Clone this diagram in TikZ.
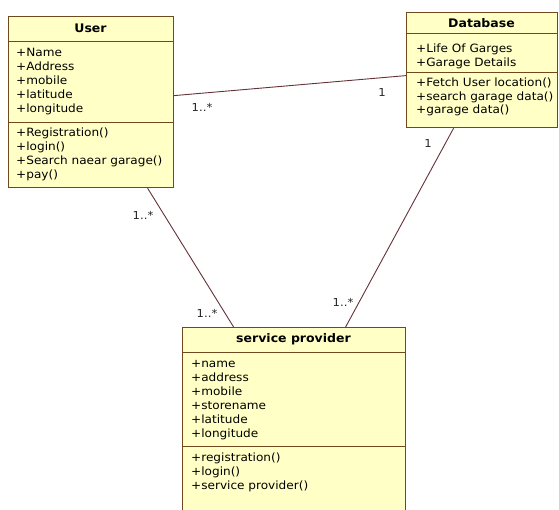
\documentclass[tikz,border=0pt]{standalone}
\usepackage{fontspec}
\setmainfont[FakeStretch=1.06]{DejaVu Sans}
\begin{document}
\begin{tikzpicture}[x=1pt,y=-1pt,
  comp/.style={draw=boxline, fill=boxfill, line width=1.2pt, rectangle, inner sep=0pt, anchor=north west},
  title/.style={font=\fontsize{11.8}{13}\selectfont\bfseries, inner sep=0pt, text=black},
  txt/.style={font=\fontsize{11.4}{13}\selectfont, inner sep=0pt, anchor=base west, text=black},
  mult/.style={font=\fontsize{11}{13}\selectfont, inner sep=0pt, text=black!85},
  assoc/.style={draw=assocline, line width=0.9pt}]
\definecolor{boxfill}{RGB}{255,255,198}
\definecolor{boxline}{RGB}{112,72,30}
\definecolor{assocline}{RGB}{100,50,55}
\fill[white] (0,0) rectangle (559,509);
\useasboundingbox (0,0) rectangle (559,509);

% User
\node[comp, minimum width=165pt, minimum height=25pt] (uH) at (8,16) {};
\node[comp, minimum width=165pt, minimum height=81pt] (uA) at (8,41) {};
\node[comp, minimum width=165pt, minimum height=65pt] (uM) at (8,122) {};
\node[title] (uT) at (90.5,28) {User};
\foreach \t [count=\i from 0] in {+Name,+Address,+mobile,+latitude,+longitude}
  \node[txt] (ua\i) at (16,56.5+14*\i) {\t};
\foreach \t [count=\i from 0] in {+Registration(),+login(),+Search naear garage(),+pay()}
  \node[txt] (um\i) at (16,136.5+14*\i) {\t};

% Database
\node[comp, minimum width=151pt, minimum height=21pt] (dH) at (406,12) {};
\node[comp, minimum width=151pt, minimum height=39pt] (dA) at (406,33) {};
\node[comp, minimum width=151pt, minimum height=55pt] (dM) at (406,72) {};
\node[title] (dT) at (481.5,23) {Database};
\foreach \t [count=\i from 0] in {+Life Of Garges,+Garage Details}
  \node[txt] (da\i) at (416,52.5+14*\i) {\t};
\foreach \t [count=\i from 0] in {+Fetch User location(),+search garage data(),+garage data()}
  \node[txt] (dm\i) at (416,86.5+13.5*\i) {\t};

% Service provider
\node[comp, minimum width=223pt, minimum height=25pt] (sH) at (182,327) {};
\node[comp, minimum width=223pt, minimum height=94pt] (sA) at (182,352) {};
\node[comp, minimum width=223pt, minimum height=80pt] (sM) at (182,446) {};
\node[title] (sT) at (293.5,339) {service provider};
\foreach \t [count=\i from 0] in {+name,+address,+mobile,+storename,+latitude,+longitude}
  \node[txt] (sa\i) at (191,367.5+14*\i) {\t};
\foreach \t [count=\i from 0] in {+registration(),+login(),+service provider()}
  \node[txt] (sm\i) at (191,461.5+14*\i) {\t};

% associations
\draw[assoc] ([yshift=-13.5pt]uA.east) -- ([yshift=24.5pt]dM.west);
\draw[assoc] ([xshift=56.5pt]uM.south) -- ([xshift=-60.5pt]sH.north);
\draw[assoc] ([xshift=-28.5pt]dM.south) -- ([xshift=51.5pt]sH.north);

% multiplicities
\node[mult] (m1) at (202,107) {1..*};
\node[mult] (m2) at (382,92) {1};
\node[mult] (m3) at (428,143) {1};
\node[mult] (m4) at (143,215) {1..*};
\node[mult] (m5) at (207,313) {1..*};
\node[mult] (m6) at (343,302) {1..*};
\end{tikzpicture}
\end{document}
